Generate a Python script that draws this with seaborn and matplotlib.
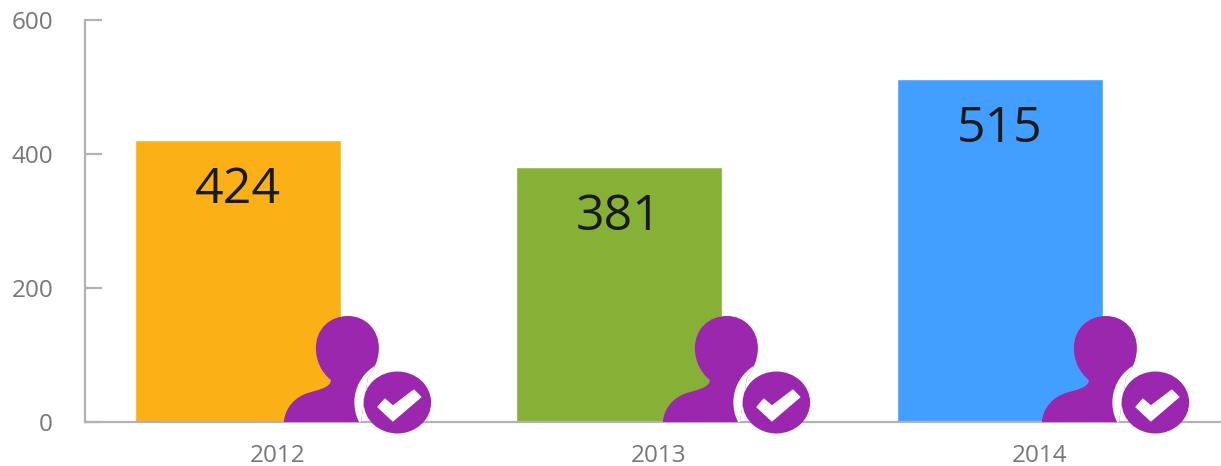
import numpy as np
import pandas as pd
import matplotlib
matplotlib.use("Agg")
import matplotlib.pyplot as plt
import seaborn as sns
from matplotlib.patches import Circle, Ellipse, PathPatch, Polygon
from matplotlib.path import Path
from matplotlib.transforms import Affine2D

years = ["2012", "2013", "2014"]
bar_heights = [421, 380, 512]  # as drawn against the axis
value_labels = ["424", "381", "515"]
colors = ["#FBB116", "#86B036", "#439FFF"]
y_ticks = [0, 200, 400, 600]

purple = "#9B27AF"
grey = "#B2B2B2"
bar_width = 0.54

sns.set_theme(style="white")
plt.rcParams["font.family"] = ["Open Sans", "DejaVu Sans"]

fig = plt.figure(figsize=(12.21, 4.66), dpi=100)
ax = fig.add_axes([85 / 1221, 44 / 466, 1 - 85 / 1221, 402 / 466])

df = pd.DataFrame({"year": years, "n": bar_heights})
sns.barplot(data=df, x="year", y="n", hue="year", palette=colors, saturation=1,
            width=bar_width, legend=False, ax=ax)

ax.set_xlim(-0.4016, 2.58)
ax.set_ylim(0, 600)
ax.set_xlabel("")
ax.set_ylabel("")

# axes look
sns.despine(ax=ax)
for s in ["left", "bottom"]:
    ax.spines[s].set_color(grey)
    ax.spines[s].set_linewidth(1.6)
ax.set_yticks(y_ticks)
ax.tick_params(axis="y", direction="in", length=12, width=1.6, color=grey, pad=23,
               labelsize=17.5, labelcolor="#777777", left=True)
# year labels sit to the right of the bar centre in the original
ax.set_xticks(np.arange(3) + 0.104)
ax.set_xticklabels(years)
ax.tick_params(axis="x", length=0, pad=15.5, labelsize=17.5, labelcolor="#777777")

for i, h in enumerate(bar_heights):
    ax.annotate(value_labels[i], xy=(i, h), xytext=(0, -36), textcoords="offset points",
                ha="center", va="center", fontsize=36, color="#1A1A1A")


# person + tick icon, sizes in pixels from bar right edge / baseline
def draw_icon(ax, x, shift):
    ox, oy = ax.transData.transform((x, 0))
    tr = Affine2D().scale(1, -1).translate(ox + shift, oy)
    M, L, C, Z = Path.MOVETO, Path.LINETO, Path.CURVE4, Path.CLOSEPOLY
    person = Path(
        [(-57, 0),
         (-56, -14), (-46, -25), (-33, -29),
         (-24, -32), (-10, -34), (-10, -42),
         (-20, -50), (-25, -62), (-25, -74),
         (-25, -93), (-11, -106), (7, -106),
         (25, -106), (38, -92), (38, -74),
         (38, -62), (33, -52), (27, -44),
         (20, 0), (-57, 0)],
        [M, C, C, C, C, C, C, C, C, C, C, C, C, C, C, C, C, C, C, L, Z])
    body = PathPatch(person, fc=purple, ec="none", transform=tr, zorder=5, clip_on=False)
    ax.add_patch(body)
    # white ring only cuts into the person, the baseline carries on behind the badge
    ring = Circle((56.5, -19.5), 43, fc="white", ec="none", transform=tr, zorder=6)
    ax.add_patch(ring)
    ring.set_clip_path(person, tr)
    badge = Ellipse((56.5, -19.5), 67.5, 62, fc=purple, ec="none", transform=tr, zorder=7, clip_on=False)
    ax.add_patch(badge)
    tick = Polygon([(37, -15), (44, -23), (52, -16), (73, -32), (80, -25), (52, -1)],
                   fc="white", ec="white", lw=0.8, joinstyle="round", transform=tr, zorder=8, clip_on=False)
    ax.add_patch(tick)


# icons are spaced a little tighter than the bars
for i in range(3):
    draw_icon(ax, i + bar_width / 2, -2 * i)

fig.savefig("out.png", dpi=100)
